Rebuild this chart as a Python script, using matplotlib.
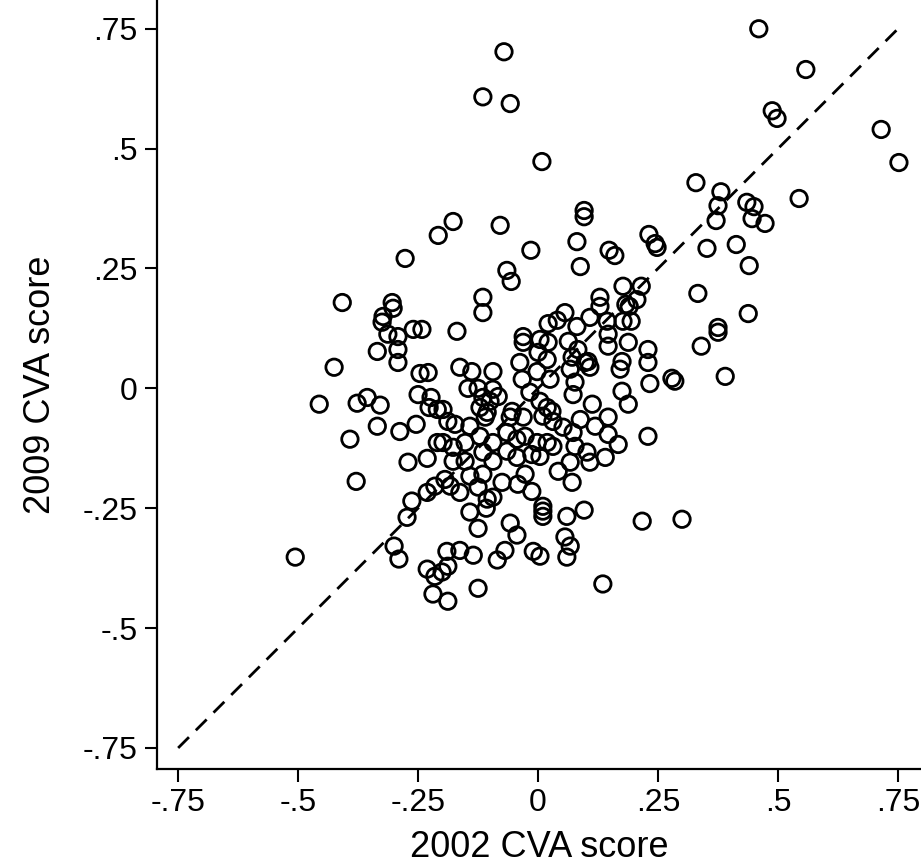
import numpy as np
import matplotlib
matplotlib.use("Agg")
from matplotlib import pyplot as plt

# 2002 CVA score (x) and 2009 CVA score (y)
cva2002 = [0.46, -0.071, 0.558, -0.115, -0.058, 0.488, 0.498, 0.715, 0.752, 0.008,
	0.329, 0.381, 0.544, 0.375, 0.435, 0.45, 0.371, 0.446, 0.473, 0.096,
	0.096, -0.177, -0.079, 0.231, 0.244, 0.248, -0.208, -0.277, -0.408, -0.304,
	-0.302, -0.323, -0.325, -0.26, -0.242, -0.015, -0.065, -0.056, 0.081, 0.088,
	-0.115, -0.115, -0.169, 0.056, 0.04, 0.021, 0.081, 0.108, 0.129, 0.129,
	0.352, 0.413, 0.44, 0.333, 0.438, 0.375, 0.148, 0.16, 0.177, 0.215,
	0.206, 0.183, 0.19, 0.144, 0.177, 0.194, -0.425, -0.456, -0.377, -0.356,
	-0.329, -0.335, -0.292, -0.292, -0.313, -0.292, -0.335, -0.288, -0.254, -0.392,
	-0.246, -0.229, -0.25, -0.223, -0.227, -0.21, -0.21, -0.231, -0.271, -0.031,
	-0.031, 0.004, 0.021, -0.163, -0.138, -0.094, -0.038, -0.033, -0.002, 0.025,
	0.019, 0.0, -0.146, -0.125, -0.094, -0.115, -0.1, -0.083, -0.121, -0.106,
	-0.11, -0.198, -0.188, -0.173, -0.142, -0.054, -0.058, -0.031, -0.017, 0.004,
	0.019, 0.029, 0.01, 0.031, -0.121, -0.094, -0.065, -0.044, -0.027, -0.002,
	0.019, 0.031, -0.198, -0.177, -0.152, -0.115, -0.094, -0.065, -0.013, 0.004,
	-0.044, -0.177, -0.152, 0.063, 0.083, 0.146, 0.146, 0.188, 0.229, 0.229,
	0.175, 0.171, 0.233, 0.279, 0.285, 0.175, 0.188, 0.071, 0.067, 0.098,
	0.108, 0.104, 0.077, 0.073, 0.113, 0.088, 0.119, 0.146, 0.146, 0.167,
	0.229, 0.073, 0.077, 0.102, 0.14, 0.052, 0.108, 0.067, 0.375, 0.34,
	0.39, -0.379, -0.506, -0.263, -0.231, -0.215, -0.273, -0.3, -0.29, -0.231,
	-0.215, -0.219, -0.142, -0.125, -0.108, -0.106, -0.094, -0.125, -0.163, -0.183,
	-0.194, -0.142, -0.115, -0.075, -0.042, -0.027, -0.013, 0.01, 0.01, 0.01,
	0.06, 0.096, 0.071, 0.042, -0.058, -0.044, 0.056, 0.067, 0.06, -0.01,
	0.004, -0.069, -0.085, -0.135, -0.163, -0.19, -0.188, -0.2, -0.125, -0.188,
	0.135, 0.217, 0.3]
cva2009 = [0.75, 0.702, 0.665, 0.608, 0.594, 0.579, 0.563, 0.54, 0.471, 0.473,
	0.429, 0.41, 0.396, 0.381, 0.388, 0.379, 0.35, 0.354, 0.344, 0.371,
	0.358, 0.348, 0.34, 0.321, 0.302, 0.294, 0.319, 0.271, 0.179, 0.179,
	0.167, 0.15, 0.138, 0.123, 0.123, 0.288, 0.246, 0.223, 0.306, 0.254,
	0.19, 0.158, 0.119, 0.158, 0.142, 0.135, 0.129, 0.148, 0.19, 0.171,
	0.292, 0.3, 0.256, 0.198, 0.156, 0.127, 0.288, 0.277, 0.213, 0.213,
	0.185, 0.175, 0.171, 0.14, 0.14, 0.14, 0.044, -0.033, -0.031, -0.019,
	-0.035, 0.077, 0.081, 0.054, 0.113, 0.108, -0.079, -0.09, -0.075, -0.106,
	0.031, 0.033, -0.013, -0.019, -0.04, -0.044, -0.113, -0.146, -0.154, 0.108,
	0.096, 0.102, 0.096, 0.044, 0.035, 0.035, 0.054, 0.019, 0.035, 0.019,
	0.06, 0.075, 0.0, 0.0, -0.002, -0.019, -0.027, -0.017, -0.04, -0.05,
	-0.06, -0.044, -0.069, -0.075, -0.079, -0.048, -0.06, -0.06, -0.008, -0.027,
	-0.04, -0.048, -0.058, -0.069, -0.1, -0.113, -0.092, -0.106, -0.1, -0.113,
	-0.113, -0.121, -0.113, -0.123, -0.113, -0.133, -0.152, -0.131, -0.138, -0.142,
	-0.144, -0.152, -0.152, 0.098, 0.081, 0.113, 0.088, 0.096, 0.081, 0.054,
	0.056, 0.04, 0.01, 0.021, 0.015, -0.006, -0.033, 0.065, 0.04, 0.054,
	0.044, 0.056, 0.013, -0.013, -0.033, -0.065, -0.079, -0.06, -0.096, -0.117,
	-0.1, -0.092, -0.121, -0.133, -0.144, -0.081, -0.154, -0.154, 0.117, 0.088,
	0.025, -0.194, -0.352, -0.235, -0.217, -0.204, -0.269, -0.329, -0.356, -0.377,
	-0.392, -0.429, -0.258, -0.292, -0.25, -0.231, -0.227, -0.206, -0.217, -0.204,
	-0.19, -0.183, -0.179, -0.196, -0.2, -0.179, -0.215, -0.246, -0.256, -0.267,
	-0.267, -0.254, -0.196, -0.173, -0.281, -0.306, -0.31, -0.329, -0.352, -0.34,
	-0.35, -0.338, -0.358, -0.348, -0.338, -0.34, -0.371, -0.383, -0.417, -0.444,
	-0.408, -0.277, -0.273]

ticks = [-0.75, -0.5, -0.25, 0, 0.25, 0.5, 0.75]
tick_labels = ["-.75", "-.5", "-.25", "0", ".25", ".5", ".75"]

plt.rcParams['font.family'] = ['Liberation Sans', 'DejaVu Sans']

fig = plt.figure(figsize=(9.21, 8.68), dpi=100)
ax = fig.add_axes([0.1705, 0.114, 0.8295, 0.886])

ax.scatter(cva2002, cva2009, s=140, facecolors='none', edgecolors='black', linewidths=2.0, zorder=3)
ax.plot([-0.75, 0.75], [-0.75, 0.75], color='black', lw=2.0, linestyle=(0, (5.5, 3.5)), zorder=2)

ax.set_xlim(-0.794, 0.798)
ax.set_ylim(-0.794, 0.81)
ax.set_xticks(ticks)
ax.set_xticklabels(tick_labels)
ax.set_yticks(ticks)
ax.set_yticklabels(tick_labels)
ax.tick_params(direction='out', length=9, width=1.5, labelsize=23, pad=5)
for s in ['top', 'right']:
	ax.spines[s].set_visible(False)
for s in ['left', 'bottom']:
	ax.spines[s].set_linewidth(1.6)
ax.set_xlabel("2002 CVA score", fontsize=26, labelpad=8)
ax.set_ylabel("2009 CVA score", fontsize=26, labelpad=18)

fig.savefig("out.png", dpi=100)
